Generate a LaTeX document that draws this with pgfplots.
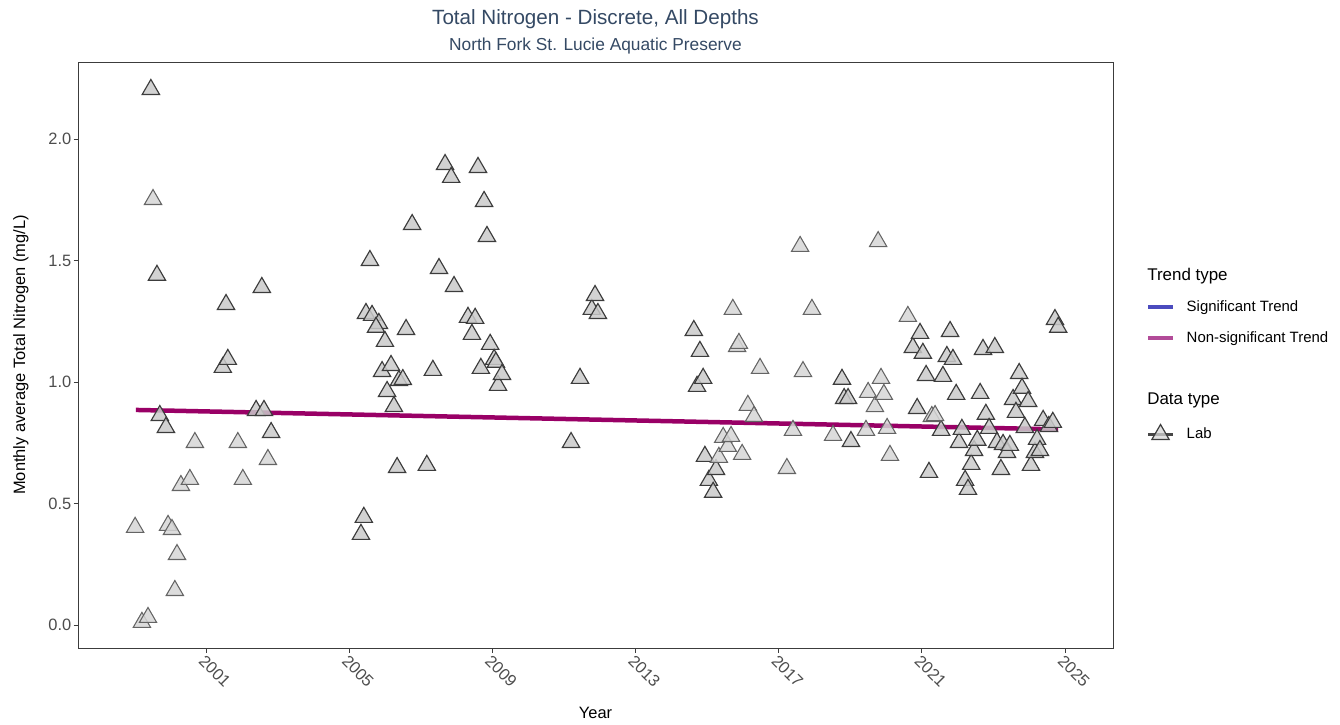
\documentclass[border=0pt]{standalone}
\usepackage{fontspec}
\setmainfont{Liberation Sans}
\usepackage{pgfplots}
\pgfplotsset{compat=1.18}
\usepackage{pgfplotstable}
\definecolor{titlecol}{RGB}{52,73,100}
\definecolor{tickcol}{RGB}{77,77,77}
\definecolor{framecol}{RGB}{60,60,60}
\definecolor{trendcol}{RGB}{153,0,102}
\definecolor{sigcol}{RGB}{75,75,190}
\definecolor{nonsigcol}{RGB}{178,75,152}
\definecolor{lightfill}{RGB}{214,214,214}
\definecolor{lightdraw}{RGB}{100,100,100}
\definecolor{darkfill}{RGB}{202,202,202}
\definecolor{darkdraw}{RGB}{60,60,60}

\pgfplotstableread{
x y
1999.02 0.402
1999.21 0.011
1999.38 0.031
1999.52 1.751
1999.94 0.410
2000.05 0.393
2000.13 0.142
2000.19 0.290
2000.30 0.574
2000.55 0.599
2000.69 0.751
2001.89 0.751
2002.03 0.599
2002.73 0.681
2015.33 0.690
2015.45 0.772
2015.58 0.735
2015.67 0.776
2015.72 1.299
2015.84 1.146
2015.89 1.159
2015.98 0.702
2016.14 0.904
2016.31 0.858
2016.48 1.056
2017.23 0.644
2017.40 0.801
2017.60 1.558
2017.68 1.043
2017.93 1.299
2018.52 0.780
2019.44 0.801
2019.50 0.957
2019.69 0.899
2019.78 1.578
2019.86 1.015
2019.94 0.949
2020.03 0.809
2020.11 0.698
2020.61 1.270
2021.28 0.858
2021.37 0.862
}\lightpts

\pgfplotstableread{
x y
1999.46 2.204
1999.63 1.439
1999.71 0.862
1999.88 0.813
2001.47 1.060
2001.56 1.319
2001.61 1.093
2002.40 0.883
2002.56 1.389
2002.62 0.883
2002.82 0.792
2005.33 0.373
2005.41 0.443
2005.47 1.282
2005.58 1.500
2005.64 1.274
2005.83 1.241
2005.75 1.225
2005.92 1.043
2006.00 1.167
2006.06 0.961
2006.17 1.068
2006.25 0.899
2006.34 0.648
2006.39 1.006
2006.50 1.010
2006.59 1.216
2006.76 1.648
2007.17 0.657
2007.34 1.048
2007.51 1.467
2007.68 1.895
2007.85 1.842
2007.93 1.393
2008.32 1.266
2008.43 1.196
2008.52 1.262
2008.60 1.883
2008.68 1.056
2008.77 1.743
2008.85 1.599
2008.94 1.155
2009.05 1.093
2009.10 1.081
2009.16 0.986
2009.27 1.031
2011.20 0.751
2011.45 1.015
2011.78 1.299
2011.87 1.356
2011.95 1.282
2014.63 1.212
2014.72 0.982
2014.80 1.126
2014.89 1.015
2014.94 0.694
2015.05 0.595
2015.17 0.546
2015.25 0.640
2018.77 1.011
2018.83 0.932
2018.94 0.932
2019.02 0.755
2020.75 1.142
2020.87 0.891
2020.95 1.200
2021.03 1.118
2021.12 1.027
2021.20 0.628
2021.54 0.801
2021.59 1.023
2021.70 1.105
2021.79 1.208
2021.87 1.093
2021.96 0.949
2022.04 0.751
2022.12 0.805
2022.21 0.595
2022.29 0.558
2022.38 0.661
2022.46 0.718
2022.55 0.760
2022.63 0.953
2022.71 1.134
2022.79 0.867
2022.88 0.809
2023.04 1.142
2023.10 0.751
2023.21 0.640
2023.27 0.743
2023.38 0.710
2023.46 0.739
2023.55 0.928
2023.63 0.875
2023.72 1.035
2023.80 0.974
2023.88 0.813
2023.97 0.920
2024.05 0.657
2024.16 0.710
2024.22 0.764
2024.30 0.718
2024.39 0.842
2024.55 0.817
2024.66 0.834
2024.72 1.257
2024.81 1.225
}\darkpts

\pgfplotstableread{
x y
1999.04 0.885
2024.81 0.805
}\trend

\begin{document}
\begin{tikzpicture}
\useasboundingbox (-78bp,-77bp) rectangle (1262bp,648bp);
\begin{axis}[
  scale only axis,
  width=1035bp, height=586bp,
  xmin=1997.424, xmax=2026.342,
  ymin=-0.0947, ymax=2.3169,
  axis line style={draw=framecol, line width=0.8bp},
  tick align=outside,
  major tick length=4.5bp,
  tick style={draw=framecol, line width=0.8bp},
  xtick pos=bottom, ytick pos=left,
  xtick={2001,2005,2009,2013,2017,2021,2025},
  xticklabels={2001,2005,2009,2013,2017,2021,2025},
  ytick={0,0.5,1,1.5,2},
  yticklabels={0.0,0.5,1.0,1.5,2.0},
  /pgf/number format/assume math mode=true,
  ticklabel style={font=\fontsize{16.5}{19}\selectfont, text=tickcol},
  xticklabel style={rotate=-45, anchor=north west, inner sep=1bp},
  yticklabel style={anchor=east, inner sep=2bp},
  xlabel={Year},
  ylabel={Monthly average Total Nitrogen (mg/L)},
  label style={font=\fontsize{16.5}{19}\selectfont, text=black},
  xlabel style={at={(axis description cs:0.5,0)}, anchor=base, yshift=-70bp},
  ylabel style={at={(axis description cs:-0.0551,0.5)}, anchor=center},
  legend style={at={(1.0319,0.6459)}, anchor=north west, draw=none, fill=none,
    inner sep=0pt, outer sep=0pt, row sep=17bp,
    font=\fontsize{15}{17}\selectfont,
    nodes={inner sep=0pt, text height=11bp, text depth=3bp},
    /tikz/every odd column/.append style={column sep=11.7bp}},
  legend cell align=left,
  legend image code/.code={\draw[#1] (0bp,0bp) -- (25bp,0bp);},
  clip=false,
]
\addlegendimage{empty legend}
\addlegendentry{\fontsize{17}{19}\selectfont\hspace*{-39.4bp}Trend type}
\addlegendimage{sigcol, line width=4bp}
\addlegendentry{Significant Trend}
\addlegendimage{nonsigcol, line width=4bp}
\addlegendentry{Non-significant Trend}
\addlegendimage{empty legend}
\addlegendentry{}
\addlegendimage{empty legend}
\addlegendentry{\fontsize{17}{19}\selectfont\hspace*{-39.4bp}Data type}
\addlegendimage{legend image code/.code={
  \draw[black!72, line width=3.5bp] (0bp,0bp) -- (25bp,0bp);
  \draw plot[mark=triangle*, mark size=10bp, mark options={fill=lightfill, fill opacity=0.75, draw=darkdraw, line width=1.2bp}] coordinates {(12.5bp,0bp)};}}
\addlegendentry{Lab}

\addplot[forget plot, trendcol, line width=4.5bp] table[x=x,y=y] {\trend};
\addplot[forget plot, only marks, mark=triangle*, mark size=10bp,
  mark options={fill=darkfill, fill opacity=0.85, draw=darkdraw, line width=1.15bp}]
  table[x=x,y=y] {\darkpts};
\addplot[forget plot, only marks, mark=triangle*, mark size=10bp,
  mark options={fill=lightfill, fill opacity=0.85, draw=lightdraw, line width=1.05bp}]
  table[x=x,y=y] {\lightpts};

\node[anchor=base, text=titlecol, font=\fontsize{20.7}{24}\selectfont] at (axis description cs:0.5,1) [yshift=37bp] {Total Nitrogen - Discrete, All Depths};
\node[anchor=base, text=titlecol, font=\fontsize{17.4}{20}\selectfont] at (axis description cs:0.5,1) [yshift=11bp] {North Fork St. Lucie Aquatic Preserve};
\end{axis}
\end{tikzpicture}
\end{document}
